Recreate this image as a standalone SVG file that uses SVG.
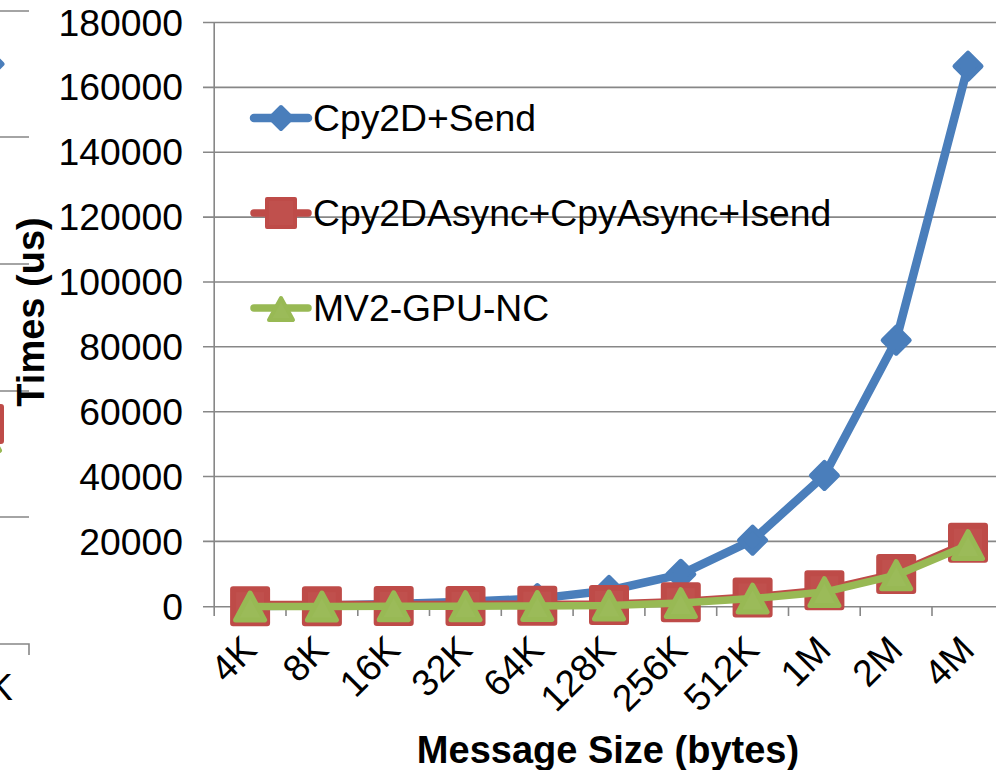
<svg xmlns="http://www.w3.org/2000/svg" xmlns:xlink="http://www.w3.org/1999/xlink" width="996" height="770" viewBox="0 0 996 770">
  <style>
    .grid { stroke: #878787; stroke-width: 1.6; fill: none; }
    .lbl { font-family: "Liberation Sans", Arial, sans-serif; font-size: 37.3px; fill: #000; }
    .ylbl { text-anchor: end; }
    .xlbl { text-anchor: end; }
    .title { font-family: "Liberation Sans", Arial, sans-serif; font-size: 38px; font-weight: bold; fill: #000; text-anchor: middle; }
    .ln { fill: none; stroke-width: 7.5; stroke-linejoin: round; stroke-linecap: round; }
    .blue { stroke: #4A7EBB; stroke-width: 8.5; }
    .red { stroke: #BE4B48; }
    .green { stroke: #98B954; }
  </style>
  <defs>
    <path id="dia" d="M0,-13 L13,0 L0,13 L-13,0 Z" fill="#4A7EBB" stroke="#4A7EBB" stroke-width="5" stroke-linejoin="round"/>
    <rect id="sq" x="-17" y="-17" width="34" height="34" fill="#C0504D" stroke="#BE4B48" stroke-width="6" stroke-linejoin="round"/>
    <path id="tri" d="M0,-13.5 L14.5,13.5 L-14.5,13.5 Z" fill="#9BBB59" stroke="#98B954" stroke-width="5" stroke-linejoin="round"/>
    <path id="diaS" d="M0,-11 L11,0 L0,11 L-11,0 Z" fill="#4A7EBB" stroke="#4A7EBB" stroke-width="4" stroke-linejoin="round"/>
    <rect id="sqS" x="-14" y="-14" width="28" height="28" fill="#C0504D" stroke="#BE4B48" stroke-width="4" stroke-linejoin="round"/>
    <path id="triS" d="M0,-11 L12,11 L-12,11 Z" fill="#9BBB59" stroke="#98B954" stroke-width="4" stroke-linejoin="round"/>
  </defs>

  <rect width="996" height="770" fill="#fff"/>

  <!-- neighbouring chart, right edge -->
  <g id="side-chart">
    <path class="grid" d="M0,11H29 M0,137H29 M0,264H29 M0,391H29 M0,517H29 M0,644H29V655"/>
    <use xlink:href="#dia" x="-11" y="64"/>
    <use xlink:href="#sq" x="-16" y="424"/>
    <use xlink:href="#tri" x="-15" y="437"/>
    <text class="lbl" x="-12" y="700">K</text>
  </g>

  <!-- grid and axes -->
  <g id="axes">
    <path class="grid" d="M203,22.5H1000 M203,87.4H1000 M203,152.2H1000 M203,217.1H1000 M203,282H1000 M203,346.8H1000 M203,411.7H1000 M203,476.5H1000 M203,541.4H1000 M203,606.7H1000"/>
    <path class="grid" d="M214.2,22.5V616 M286,606.7V616 M357.8,606.7V616 M429.5,606.7V616 M501.3,606.7V616 M573.1,606.7V616 M644.9,606.7V616 M716.7,606.7V616 M788.5,606.7V616 M860.2,606.7V616 M932,606.7V616"/>
  </g>

  <g id="y-labels" class="lbl ylbl">
    <text x="183" y="36">180000</text>
    <text x="183" y="100">160000</text>
    <text x="183" y="165">140000</text>
    <text x="183" y="230">120000</text>
    <text x="183" y="295">100000</text>
    <text x="183" y="360">80000</text>
    <text x="183" y="425">60000</text>
    <text x="183" y="490">40000</text>
    <text x="183" y="555">20000</text>
    <text x="183" y="620">0</text>
  </g>

  <g id="x-labels" class="lbl xlbl">
    <text transform="translate(258.6,652) rotate(-45)">4K</text>
    <text transform="translate(330.4,652) rotate(-45)">8K</text>
    <text transform="translate(402.2,652) rotate(-45)">16K</text>
    <text transform="translate(474,652) rotate(-45)">32K</text>
    <text transform="translate(545.8,652) rotate(-45)">64K</text>
    <text transform="translate(617.5,652) rotate(-45)">128K</text>
    <text transform="translate(689.3,652) rotate(-45)">256K</text>
    <text transform="translate(761.1,652) rotate(-45)">512K</text>
    <text transform="translate(832.9,652) rotate(-45)">1M</text>
    <text transform="translate(904.7,652) rotate(-45)">2M</text>
    <text transform="translate(976.5,652) rotate(-45)">4M</text>
  </g>

  <text id="y-title" class="title" transform="translate(44,312) rotate(-90)">Times (us)</text>
  <text id="x-title" class="title" x="608" y="763">Message Size (bytes)</text>

  <!-- data series -->
  <g id="series-cpy2d-send">
    <polyline class="ln blue" points="250.1,606.1 321.9,605.4 393.7,604.1 465.5,601.8 537.3,598.6 609,590.5 680.8,574.3 752.6,540.2 824.4,475.4 896.2,340.2 968,66.2"/>
    <use xlink:href="#dia" x="250.1" y="606.1"/>
    <use xlink:href="#dia" x="321.9" y="605.4"/>
    <use xlink:href="#dia" x="393.7" y="604.1"/>
    <use xlink:href="#dia" x="465.5" y="601.8"/>
    <use xlink:href="#dia" x="537.3" y="598.6"/>
    <use xlink:href="#dia" x="609" y="590.5"/>
    <use xlink:href="#dia" x="680.8" y="574.3"/>
    <use xlink:href="#dia" x="752.6" y="540.2"/>
    <use xlink:href="#dia" x="824.4" y="475.4"/>
    <use xlink:href="#dia" x="896.2" y="340.2"/>
    <use xlink:href="#dia" x="968" y="66.2"/>
  </g>

  <g id="series-async-isend">
    <polyline class="ln red" points="250.1,604.6 321.9,604.6 393.7,604.4 465.5,604.4 537.3,604.2 609,603.9 680.8,601.6 752.6,596.8 824.4,589.9 896.2,573.5 968,542.5"/>
    <use xlink:href="#sq" x="250.1" y="606.2"/>
    <use xlink:href="#sq" x="321.9" y="606.2"/>
    <use xlink:href="#sq" x="393.7" y="606.1"/>
    <use xlink:href="#sq" x="465.5" y="605.9"/>
    <use xlink:href="#sq" x="537.3" y="605.7"/>
    <use xlink:href="#sq" x="609" y="605.1"/>
    <use xlink:href="#sq" x="680.8" y="602.2"/>
    <use xlink:href="#sq" x="752.6" y="597.6"/>
    <use xlink:href="#sq" x="824.4" y="590.2"/>
    <use xlink:href="#sq" x="896.2" y="574"/>
    <use xlink:href="#sq" x="968" y="542.8"/>
  </g>

  <g id="series-mv2-gpu-nc">
    <polyline class="ln green" points="250.1,606.5 321.9,606.5 393.7,606.3 465.5,606.2 537.3,606 609,605.5 680.8,603.1 752.6,598.6 824.4,592.1 896.2,575.2 968,545.1"/>
    <use xlink:href="#tri" x="250.1" y="606.5"/>
    <use xlink:href="#tri" x="321.9" y="606.5"/>
    <use xlink:href="#tri" x="393.7" y="606.3"/>
    <use xlink:href="#tri" x="465.5" y="606.2"/>
    <use xlink:href="#tri" x="537.3" y="606"/>
    <use xlink:href="#tri" x="609" y="605.5"/>
    <use xlink:href="#tri" x="680.8" y="603.1"/>
    <use xlink:href="#tri" x="752.6" y="598.6"/>
    <use xlink:href="#tri" x="824.4" y="592.1"/>
    <use xlink:href="#tri" x="896.2" y="575.2"/>
    <use xlink:href="#tri" x="968" y="545.1"/>
  </g>

  <!-- legend -->
  <g id="legend">
    <line class="ln blue" x1="254" y1="118" x2="308" y2="118"/>
    <use xlink:href="#diaS" x="281" y="118"/>
    <text class="lbl" x="313" y="131">Cpy2D+Send</text>
    <line class="ln red" x1="254" y1="213" x2="308" y2="213"/>
    <use xlink:href="#sqS" x="281" y="213"/>
    <text class="lbl" x="313" y="226">Cpy2DAsync+CpyAsync+Isend</text>
    <line class="ln green" x1="254" y1="308" x2="308" y2="308"/>
    <use xlink:href="#triS" x="281" y="309"/>
    <text class="lbl" x="313" y="321">MV2-GPU-NC</text>
  </g>
</svg>
